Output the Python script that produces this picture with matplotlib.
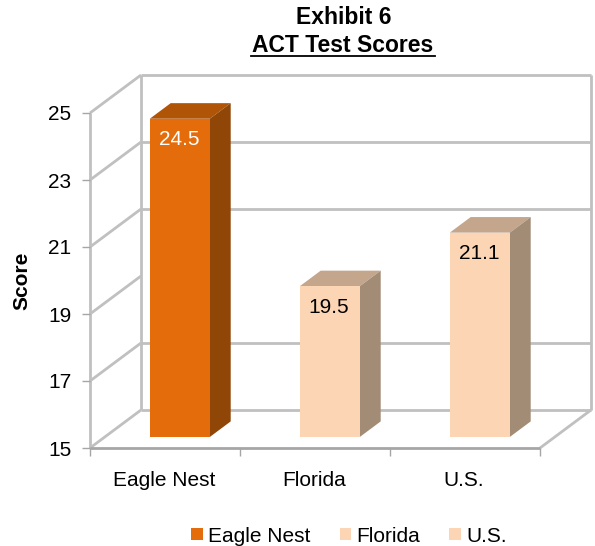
import matplotlib
matplotlib.use("Agg")
import matplotlib.pyplot as plt
from matplotlib.patches import Polygon, Rectangle

plt.rcParams["font.family"] = ["Liberation Sans", "DejaVu Sans"]

categories = ["Eagle Nest", "Florida", "U.S."]
scores = [24.5, 19.5, 21.1]
value_labels = ["24.5", "19.5", "21.1"]
y_ticks = [15, 17, 19, 21, 23, 25]
back_grid = [17, 21, 23]  # the line at 19 is missing on the back wall

FRONT = ["#e46c0a", "#fcd5b5", "#fcd5b5"]
TOP = ["#b05508", "#c4a68c", "#c4a68c"]
SIDE = ["#8f4606", "#a38c76", "#a38c76"]
TEXT_COL = ["white", "black", "black"]
GRID = "#c0c0c0"
AXIS = "#a6a6a6"

W, H = 595, 546
# wall depth in data units: 51 px across, 38 px up
DX = 51 / 150
DY = 38 / 33.5
BAR_W = 0.4
D0, D1 = 0.29, 0.70  # bar position within the floor depth
FS = 15

fig = plt.figure(figsize=(W / 100, H / 100), dpi=100)
ax = fig.add_axes([90 / W, 1 - 448 / H, 450 / W, 335 / H])
ax.set_xlim(-0.5, 2.5)
ax.set_ylim(15, 25)
ax.patch.set_visible(False)
for s in ax.spines.values():
    s.set_visible(False)


def line(xs, ys, color=GRID, lw=2.0, z=1):
    ax.plot(xs, ys, color=color, lw=lw, clip_on=False, zorder=z,
            solid_capstyle="butt")


# walls and gridlines
x0, x1 = -0.5, 2.5
for t in y_ticks:
    line([x0, x0 + DX], [t, t + DY])
for t in back_grid:
    line([x0 + DX, x1 + DX], [t + DY, t + DY])
line([x0 + DX, x1 + DX], [25 + DY, 25 + DY])
line([x0 + DX, x1 + DX], [15 + DY, 15 + DY])
line([x0 + DX, x0 + DX], [15 + DY, 25 + DY])
line([x1 + DX, x1 + DX], [15 + DY, 25 + DY])
line([x0, x0], [15, 25])
line([x1, x1 + DX], [15, 15 + DY])
line([x0, x1], [15, 15], color=AXIS, z=2)

# bars
for i, v in enumerate(scores):
    l = i - BAR_W / 2 + D0 * DX
    r = l + BAR_W
    b = 15 + D0 * DY
    t = v + D0 * DY
    ddx = (D1 - D0) * DX
    ddy = (D1 - D0) * DY
    ax.add_patch(Rectangle((l, b), BAR_W, v - 15, fc=FRONT[i], ec="none",
                           clip_on=False, zorder=4))
    ax.add_patch(Polygon([(l, t), (r, t), (r + ddx, t + ddy), (l + ddx, t + ddy)],
                         fc=TOP[i], ec="none", clip_on=False, zorder=3))
    ax.add_patch(Polygon([(r, b), (r + ddx, b + ddy), (r + ddx, t + ddy), (r, t)],
                         fc=SIDE[i], ec="none", clip_on=False, zorder=3))
    ax.annotate(value_labels[i], ((l + r) / 2, t), xytext=(-1, -21),
                textcoords="offset pixels", ha="center", va="center",
                color=TEXT_COL[i], fontsize=FS, zorder=5)

ax.set_yticks(y_ticks)
ax.set_xticks([-0.5, 0.5, 1.5, 2.5])
ax.set_xticklabels([])
ax.tick_params(axis="both", color=AXIS, width=1, length=5.5, pad=8, labelsize=FS)
ax.set_ylabel("Score", fontsize=15, fontweight="bold")
ax.yaxis.set_label_coords((31 - 90) / 450, 0.5)
for i, c in enumerate(categories):
    ax.annotate(c, (i, 15), xytext=(-1, -32), textcoords="offset pixels",
                ha="center", va="center", fontsize=FS)

fig.text(344 / W, 1 - 17 / H, "Exhibit 6", ha="center", va="center",
         fontsize=16.5, fontweight="bold")
fig.text(343 / W, 1 - 46 / H, "ACT Test Scores", ha="center", va="center",
         fontsize=16.5, fontweight="bold")
fig.add_artist(plt.Line2D([251 / W, 435 / W], [1 - 56 / H, 1 - 56 / H],
                          color="black", lw=1.3))

fig.legend([Rectangle((0, 0), 1, 1, fc=c) for c in FRONT], categories,
           loc="center", bbox_to_anchor=(349 / W, 1 - 536 / H), ncol=3,
           frameon=False, fontsize=FS, handlelength=0.55, handleheight=0.55,
           handletextpad=0.25, columnspacing=1.4, borderpad=0)

fig.savefig("out.png", dpi=100)
